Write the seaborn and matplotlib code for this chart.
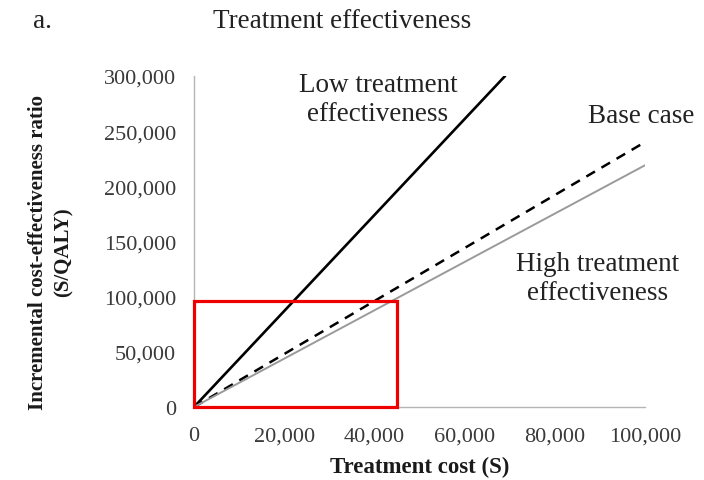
import matplotlib
matplotlib.use("Agg")
import matplotlib.pyplot as plt
from matplotlib.patches import Rectangle
from matplotlib.ticker import FuncFormatter
import seaborn as sns

# Data
cost_low = [0, 69000]
icer_low = [0, 300000]
cost_base = [0, 100000]
icer_base = [0, 240000]
cost_high = [0, 100000]
icer_high = [0, 219000]
x_ticks = [0, 20000, 40000, 60000, 80000, 100000]
y_ticks = [0, 50000, 100000, 150000, 200000, 250000, 300000]
box_cost = 45000
box_icer = 96500

sns.set_theme(style="white")
plt.rcParams['font.family'] = ['Liberation Serif', 'DejaVu Serif']

fig = plt.figure(figsize=(7.04, 4.81), dpi=100)
ax = fig.add_axes([0.2756, 0.1518, 0.916 - 0.2756, 0.840 - 0.1518])

sns.lineplot(x=cost_low, y=icer_low, ax=ax, color="black", lw=1.9)
sns.lineplot(x=cost_base, y=icer_base, ax=ax, color="black", lw=1.8,
             dashes=False)
ax.lines[-1].set_dashes((4, 3))
sns.lineplot(x=cost_high, y=icer_high, ax=ax, color="#9a9a9a", lw=1.4)

ax.set_xlim(0, 100000)
ax.set_ylim(0, 300000)
ax.set_xticks(x_ticks)
ax.set_yticks(y_ticks)
fmt = FuncFormatter(lambda v, p: f"{int(v):,}")
ax.xaxis.set_major_formatter(fmt)
ax.yaxis.set_major_formatter(fmt)

for s in ["top", "right"]:
    ax.spines[s].set_visible(False)
for s in ["left", "bottom"]:
    ax.spines[s].set_color("#b5b5b5")
    ax.spines[s].set_linewidth(1.0)
ax.tick_params(axis="both", which="major", direction="out", length=5,
               width=1.0, color="#b5b5b5", labelsize=16, labelcolor="#3a3a3a")
ax.tick_params(axis="y", pad=8)
ax.tick_params(axis="x", pad=9)

ax.set_xlabel("Treatment cost (S)", fontsize=16.5, fontweight="bold", color="#1a1a1a")
ax.xaxis.set_label_coords(0.5, -0.148)
ax.set_ylabel("Incremental cost-effectiveness ratio\n(S/QALY)", fontsize=15,
              fontweight="bold", color="#1a1a1a", linespacing=1.35)
ax.yaxis.set_label_coords(-0.268, 0.47)

ax.text(40800, 279000, "Low treatment\neffectiveness", fontsize=19.5,
        ha="center", va="center", color="#222222", linespacing=1.2)
ax.text(99100, 264000, "Base case", fontsize=19.5, ha="center", va="center",
        color="#222222", clip_on=False)
ax.text(89600, 117000, "High treatment\neffectiveness", fontsize=19.5,
        ha="center", va="center", color="#222222", linespacing=1.2, clip_on=False)

ax.add_patch(Rectangle((0, 0), box_cost, box_icer, fill=False,
                       edgecolor="#ee0000", lw=2.3, clip_on=False, zorder=10))

fig.text(33 / 704, 1 - 22 / 481, "a.", fontsize=19.5, ha="left", va="center",
         color="#222222")
fig.text(213 / 704, 1 - 22 / 481, "Treatment effectiveness", fontsize=19.5,
         ha="left", va="center", color="#222222")

fig.savefig("out.png", dpi=100)
